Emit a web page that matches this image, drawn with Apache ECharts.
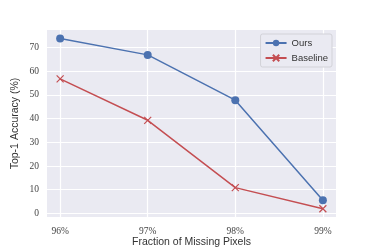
<!DOCTYPE html>
<html><head><meta charset="utf-8">
<script src="https://cdn.jsdelivr.net/npm/echarts@6/dist/echarts.min.js"></script>
<style>html,body{margin:0;padding:0;background:#fff}#c{width:374px;height:249px}</style>
</head><body><div id="c"></div>
<script>
const xValues = [96, 97, 98, 99];
const xTickLabels = ['96%', '97%', '98%', '99%'];
const yTicks = [0, 10, 20, 30, 40, 50, 60, 70];
const oursValues = [73.8, 66.9, 47.8, 5.6];
const baselineValues = [56.8, 39.3, 10.9, 2.0];

const chart = echarts.init(document.getElementById('c'), null, {renderer: 'canvas'});
const tickFont = {fontFamily: 'Liberation Serif', fontSize: 9.5, color: '#444'};
const cross = 'path://M0,0L10,10M10,0L0,10';
chart.setOption({
  animation: false,
  backgroundColor: '#fff',
  grid: {left: 47, right: 38, top: 30, bottom: 32, show: true, backgroundColor: '#EAEAF2', borderWidth: 0,
         containLabel: false, outerBoundsMode: 'none'},
  xAxis: {
    type: 'value', min: 95.85, max: 99.15,
    name: 'Fraction of Missing Pixels', nameLocation: 'middle', nameGap: 20, nameMoveOverlap: false,
    nameTextStyle: {fontFamily: 'Liberation Sans', fontSize: 10.5, color: '#333'},
    axisLine: {show: false}, axisTick: {show: false, customValues: xValues},
    axisLabel: Object.assign({customValues: xValues, margin: 9,
      formatter: v => xTickLabels[xValues.indexOf(Math.round(v))]}, tickFont),
    splitLine: {show: true, lineStyle: {color: '#fff', width: 1.2}}
  },
  yAxis: {
    type: 'value', min: -1.5, max: 77.4,
    name: 'Top-1 Accuracy (%)', nameLocation: 'middle', nameGap: 26, nameMoveOverlap: false,
    nameTextStyle: {fontFamily: 'Liberation Sans', fontSize: 10.5, color: '#333'},
    axisLine: {show: false}, axisTick: {show: false, customValues: yTicks},
    axisLabel: Object.assign({customValues: yTicks, margin: 8}, tickFont),
    splitLine: {show: true, lineStyle: {color: '#fff', width: 1.2}}
  },
  legend: {
    right: 42, top: 34, orient: 'vertical', itemWidth: 21, itemHeight: 8, itemGap: 5,
    backgroundColor: '#EAEAF2', borderColor: '#d2d2d8', borderWidth: 1, borderRadius: 2,
    padding: [4, 4, 4, 4],
    textStyle: {fontFamily: 'Liberation Sans', fontSize: 9.5, color: '#333'},
    data: ['Ours', 'Baseline']
  },
  series: [
    {name: 'Ours', type: 'line', data: xValues.map((x, i) => [x, oursValues[i]]),
     symbol: 'circle', symbolSize: 8,
     lineStyle: {color: '#4C72B0', width: 1.5}, itemStyle: {color: '#4C72B0'}},
    {name: 'Baseline', type: 'line', data: xValues.map((x, i) => [x, baselineValues[i]]),
     symbol: cross, symbolSize: 7,
     lineStyle: {color: '#C44E52', width: 1.5},
     itemStyle: {color: '#C44E52', borderColor: '#C44E52', borderWidth: 1.2}}
  ]
});
</script></body></html>
